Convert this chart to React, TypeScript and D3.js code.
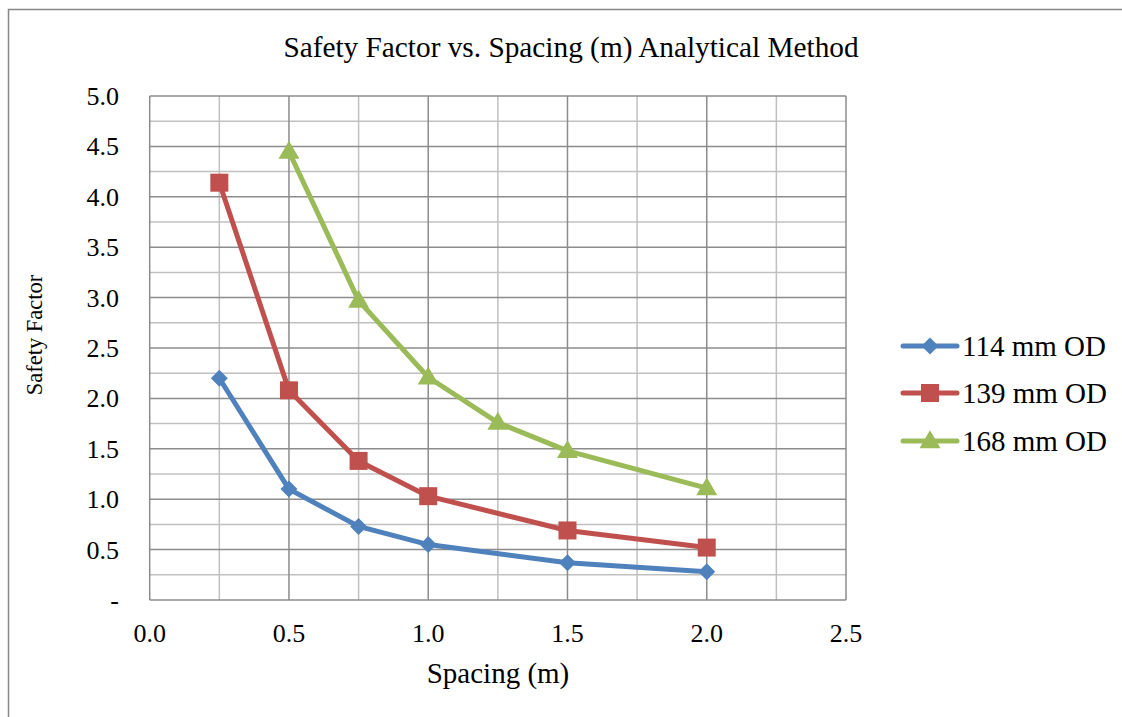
import React from "react";
import * as d3 from "d3";

const spacing114 = [0.25, 0.5, 0.75, 1.0, 1.5, 2.0];
const values114 = [2.2, 1.1, 0.73, 0.55, 0.37, 0.28];
const spacing139 = [0.25, 0.5, 0.75, 1.0, 1.5, 2.0];
const values139 = [4.14, 2.08, 1.38, 1.03, 0.69, 0.52];
const spacing168 = [0.5, 0.75, 1.0, 1.25, 1.5, 2.0];
const values168 = [4.45, 2.97, 2.21, 1.76, 1.48, 1.11];
const seriesNames = ["114 mm OD", "139 mm OD", "168 mm OD"];
const xTicks = [0, 0.5, 1.0, 1.5, 2.0, 2.5];
const yTicks = [0, 0.5, 1, 1.5, 2, 2.5, 3, 3.5, 4, 4.5, 5];

const colors = ["#4F81BD", "#C0504D", "#9BBB59"];
const shapes = ["diamond", "square", "triangle"];

function Marker({ shape, x, y, color }: { shape: string; x: number; y: number; color: string }) {
  if (shape === "diamond") {
    const r = 8.5;
    return <path d={`M${x},${y - r}L${x + r},${y}L${x},${y + r}L${x - r},${y}Z`} fill={color} />;
  }
  if (shape === "square") {
    const r = 9;
    return <rect x={x - r} y={y - r} width={2 * r} height={2 * r} fill={color} />;
  }
  const w = 10.5, h = 18;
  return <path d={`M${x},${y - h * 0.6}L${x + w},${y + h * 0.4}L${x - w},${y + h * 0.4}Z`} fill={color} />;
}

export default function App() {
  const W = 1122, H = 717;
  const x = d3.scaleLinear().domain([0, 2.5]).range([149.7, 846]);
  const y = d3.scaleLinear().domain([0, 5]).range([600, 96]);
  const series = [
    { xs: spacing114, ys: values114 },
    { xs: spacing139, ys: values139 },
    { xs: spacing168, ys: values168 },
  ];
  const line = d3.line<[number, number]>().x((d) => x(d[0])).y((d) => y(d[1]));
  const minorX = d3.range(0, 2.51, 0.25);
  const minorY = d3.range(0, 5.01, 0.25);
  const font = "'Liberation Serif', 'Times New Roman', serif";
  const legendY = [346, 393, 441];

  return (
    <svg width={W} height={H} style={{ position: "absolute", left: 0, top: 0 }} fontFamily={font}>
      <rect x={0} y={0} width={W} height={H} fill="#fff" />
      <rect x={8.5} y={9.5} width={1130} height={730} fill="none" stroke="#878787" strokeWidth={1.5} />
      <text x={571} y={57} textAnchor="middle" fontSize={29.3} fill="#000">
        Safety Factor vs. Spacing (m) Analytical Method
      </text>
      {/* minor grid */}
      {minorY.map((v, i) =>
        i % 2 === 1 ? (
          <line key={"my" + i} x1={x(0)} x2={x(2.5)} y1={y(v)} y2={y(v)} stroke="#c0c0c0" strokeWidth={1.5} />
        ) : null
      )}
      {minorX.map((v, i) =>
        i % 2 === 1 ? (
          <line key={"mx" + i} x1={x(v)} x2={x(v)} y1={y(0)} y2={y(5)} stroke="#c0c0c0" strokeWidth={1.5} />
        ) : null
      )}
      {/* major grid */}
      {yTicks.map((v) => (
        <line key={"gy" + v} x1={x(0)} x2={x(2.5)} y1={y(v)} y2={y(v)} stroke="#8c8c8c" strokeWidth={1.5} />
      ))}
      {xTicks.map((v) => (
        <line key={"gx" + v} x1={x(v)} x2={x(v)} y1={y(0)} y2={y(5)} stroke="#8c8c8c" strokeWidth={1.5} />
      ))}
      {/* y tick labels */}
      {yTicks.map((v) => (
        <text key={"ty" + v} x={119} y={y(v) + 9} textAnchor="end" fontSize={26} fill="#000">
          {v === 0 ? "-" : v.toFixed(1)}
        </text>
      ))}
      {xTicks.map((v) => (
        <text key={"tx" + v} x={x(v)} y={642} textAnchor="middle" fontSize={26} fill="#000">
          {v.toFixed(1)}
        </text>
      ))}
      <text x={498} y={683} textAnchor="middle" fontSize={29} fill="#000">
        Spacing (m)
      </text>
      <text transform="translate(42,335) rotate(-90)" textAnchor="middle" fontSize={22.5} fill="#000">
        Safety Factor
      </text>
      {series.map((s, i) => {
        const pts = s.xs.map((v, j) => [v, s.ys[j]] as [number, number]);
        return (
          <g key={"s" + i}>
            <path d={line(pts) || ""} fill="none" stroke={colors[i]} strokeWidth={5} strokeLinejoin="round" strokeLinecap="round" />
            {pts.map((p, j) => (
              <Marker key={j} shape={shapes[i]} x={x(p[0])} y={y(p[1])} color={colors[i]} />
            ))}
          </g>
        );
      })}
      {seriesNames.map((n, i) => (
        <g key={"l" + i}>
          <line x1={903} x2={957} y1={legendY[i]} y2={legendY[i]} stroke={colors[i]} strokeWidth={5} strokeLinecap="round" />
          <Marker shape={shapes[i]} x={930} y={legendY[i]} color={colors[i]} />
          <text x={962} y={legendY[i] + 10} fontSize={29} fill="#000">
            {n}
          </text>
        </g>
      ))}
    </svg>
  );
}
